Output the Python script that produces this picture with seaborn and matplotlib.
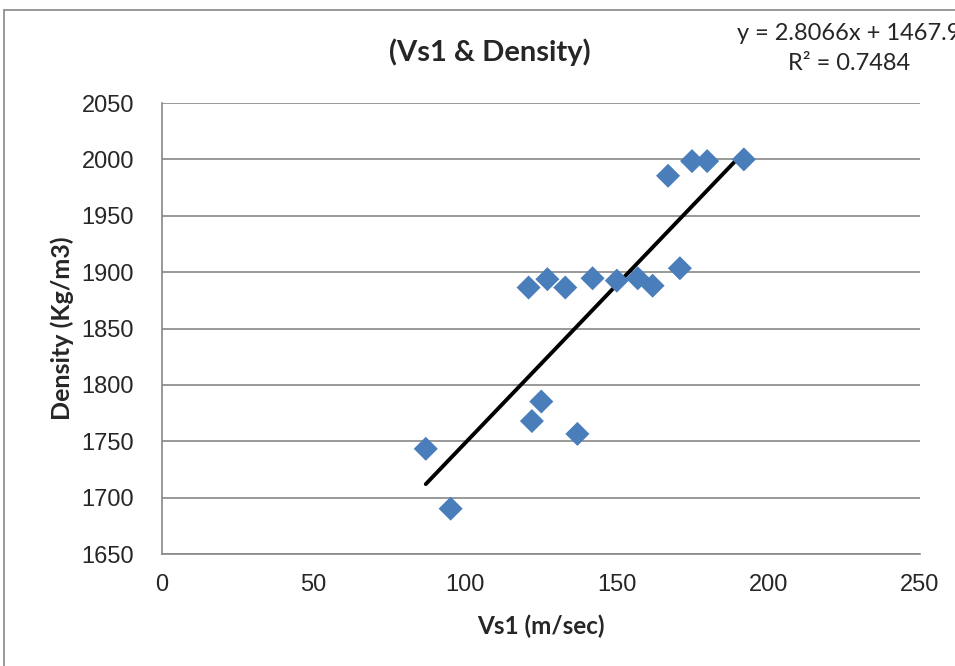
import matplotlib
matplotlib.use("Agg")
from matplotlib import pyplot as plt
from matplotlib.lines import Line2D
import numpy as np
import pandas as pd
import seaborn as sns

vs1 = [87.0, 95.2, 120.9, 122.0, 125.1, 127.1, 133.0, 137.0, 142.0,
       150.0, 156.9, 161.8, 166.9, 170.8, 174.8, 179.8, 191.9]
density = [1743.4, 1690.3, 1886.4, 1768.0, 1785.3, 1893.8, 1886.4, 1756.6, 1894.6,
           1892.5, 1894.6, 1888.0, 1985.5, 1903.5, 1998.5, 1998.5, 2000.0]
slope, intercept, r2 = 2.8066, 1467.9, 0.7484

df = pd.DataFrame({"Vs1": vs1, "Density": density})

sns.set_style("white")
plt.rcParams["font.family"] = ["Liberation Sans", "DejaVu Sans"]

fig = plt.figure(figsize=(9.55, 6.66), dpi=100)
ax = fig.add_axes([0.1696, 0.168, 0.7938, 0.6773])

# trendline from Excel coefficients, over the data range
xs = np.array([min(vs1), max(vs1)])
ax.plot(xs, slope * xs + intercept, color="black", lw=2.8, zorder=2)

sns.scatterplot(data=df, x="Vs1", y="Density", marker="D", s=150,
                color="#4A7EBB", edgecolor="none", ax=ax, zorder=3)

ax.set_xlim(0, 250)
ax.set_ylim(1650, 2050)
ax.set_xticks(range(0, 251, 50))
ax.set_yticks(range(1650, 2051, 50))
ax.yaxis.grid(True, color="#888888", lw=1.2)
ax.set_axisbelow(True)
for s in ["top", "right"]:
    ax.spines[s].set_visible(False)
for s in ["left", "bottom"]:
    ax.spines[s].set_color("#888888")
    ax.spines[s].set_linewidth(1.2)
ax.tick_params(axis="both", length=0, labelsize=17)
ax.tick_params(axis="y", pad=20)
ax.tick_params(axis="x", pad=14)

ax.set_xlabel("Vs1 (m/sec)", fontsize=17.5, fontweight="bold", family="Lato", labelpad=14)
ax.set_ylabel("Density (Kg/m3)", fontsize=18, fontweight="bold", family="Lato")
ax.yaxis.set_label_coords(-0.116, 0.5)

fig.text(0.513, 0.922, "(Vs1 & Density)", ha="center", va="center",
         fontsize=21, fontweight="bold", family="Lato")
fig.text(0.772, 0.95, f"y = {slope}x + {intercept}", ha="left", va="center",
         fontsize=17, family="Lato")
fig.text(0.889, 0.905, f"R² = {r2}", ha="center", va="center",
         fontsize=17, family="Lato")

# chart area border (Excel frame)
fig.add_artist(Line2D([4 / 955, 4 / 955], [0, 1 - 10 / 666], transform=fig.transFigure,
                      color="#888888", lw=1.2))
fig.add_artist(Line2D([4 / 955, 1], [1 - 10 / 666, 1 - 10 / 666], transform=fig.transFigure,
                      color="#888888", lw=1.2))

fig.savefig("out.png", dpi=100)
